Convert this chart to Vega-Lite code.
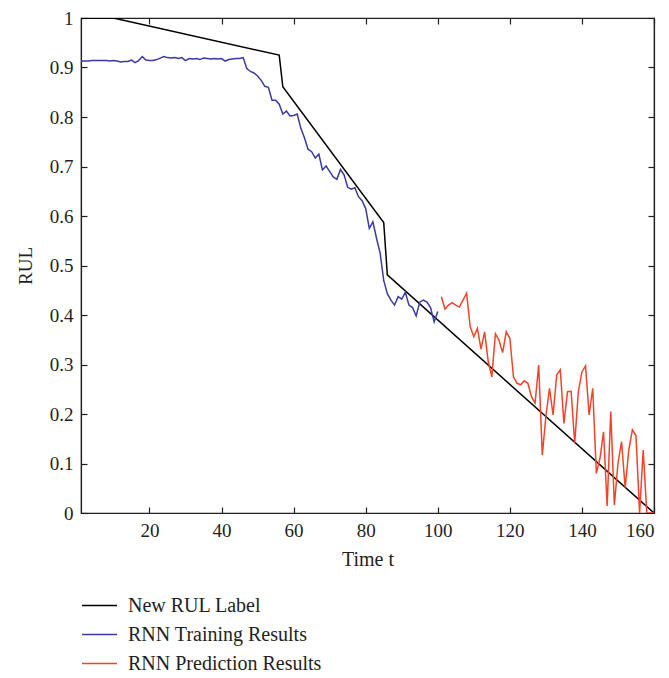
{
  "$schema": "https://vega.github.io/schema/vega-lite/v6.json",
  "width": 573,
  "height": 495,
  "autosize": {"type": "none"},
  "padding": {"left": 81, "top": 18, "right": 15, "bottom": 165},
  "background": "white",
  "config": {
    "font": "Liberation Serif",
    "view": {"stroke": "#231f20", "strokeWidth": 1.2},
    "axis": {
      "grid": false,
      "domainColor": "#231f20",
      "domainWidth": 1.2,
      "tickColor": "#231f20",
      "tickWidth": 1.2,
      "tickSize": -6,
      "labelColor": "#231f20",
      "titleColor": "#231f20",
      "labelFontSize": 19,
      "titleFontSize": 20,
      "titleFontWeight": "normal"
    },
    "legend": {
      "orient": "none",
      "legendX": 0,
      "legendY": 569,
      "symbolType": "stroke",
      "symbolSize": 1225,
      "symbolStrokeWidth": 1.6,
      "labelFontSize": 20,
      "labelColor": "#231f20",
      "labelOffset": 10,
      "labelLimit": 400,
      "rowPadding": -2,
      "title": null
    }
  },
  "data": {
    "values": [
      {"t": 1, "v": 1, "series": "New RUL Label"},
      {"t": 10, "v": 1, "series": "New RUL Label"},
      {"t": 56, "v": 0.925, "series": "New RUL Label"},
      {"t": 57, "v": 0.861, "series": "New RUL Label"},
      {"t": 85, "v": 0.587, "series": "New RUL Label"},
      {"t": 86, "v": 0.481, "series": "New RUL Label"},
      {"t": 160, "v": 0, "series": "New RUL Label"},

      {"t": 1, "v": 0.913, "series": "RNN Training Results"},
      {"t": 2, "v": 0.913, "series": "RNN Training Results"},
      {"t": 3, "v": 0.913, "series": "RNN Training Results"},
      {"t": 4, "v": 0.914, "series": "RNN Training Results"},
      {"t": 5, "v": 0.914, "series": "RNN Training Results"},
      {"t": 6, "v": 0.914, "series": "RNN Training Results"},
      {"t": 7, "v": 0.914, "series": "RNN Training Results"},
      {"t": 8, "v": 0.914, "series": "RNN Training Results"},
      {"t": 9, "v": 0.913, "series": "RNN Training Results"},
      {"t": 10, "v": 0.914, "series": "RNN Training Results"},
      {"t": 11, "v": 0.913, "series": "RNN Training Results"},
      {"t": 12, "v": 0.911, "series": "RNN Training Results"},
      {"t": 13, "v": 0.912, "series": "RNN Training Results"},
      {"t": 14, "v": 0.912, "series": "RNN Training Results"},
      {"t": 15, "v": 0.915, "series": "RNN Training Results"},
      {"t": 16, "v": 0.910, "series": "RNN Training Results"},
      {"t": 17, "v": 0.914, "series": "RNN Training Results"},
      {"t": 18, "v": 0.922, "series": "RNN Training Results"},
      {"t": 19, "v": 0.915, "series": "RNN Training Results"},
      {"t": 20, "v": 0.914, "series": "RNN Training Results"},
      {"t": 21, "v": 0.914, "series": "RNN Training Results"},
      {"t": 22, "v": 0.916, "series": "RNN Training Results"},
      {"t": 23, "v": 0.919, "series": "RNN Training Results"},
      {"t": 24, "v": 0.922, "series": "RNN Training Results"},
      {"t": 25, "v": 0.920, "series": "RNN Training Results"},
      {"t": 26, "v": 0.919, "series": "RNN Training Results"},
      {"t": 27, "v": 0.920, "series": "RNN Training Results"},
      {"t": 28, "v": 0.918, "series": "RNN Training Results"},
      {"t": 29, "v": 0.920, "series": "RNN Training Results"},
      {"t": 30, "v": 0.914, "series": "RNN Training Results"},
      {"t": 31, "v": 0.918, "series": "RNN Training Results"},
      {"t": 32, "v": 0.917, "series": "RNN Training Results"},
      {"t": 33, "v": 0.918, "series": "RNN Training Results"},
      {"t": 34, "v": 0.916, "series": "RNN Training Results"},
      {"t": 35, "v": 0.919, "series": "RNN Training Results"},
      {"t": 36, "v": 0.918, "series": "RNN Training Results"},
      {"t": 37, "v": 0.917, "series": "RNN Training Results"},
      {"t": 38, "v": 0.918, "series": "RNN Training Results"},
      {"t": 39, "v": 0.917, "series": "RNN Training Results"},
      {"t": 40, "v": 0.918, "series": "RNN Training Results"},
      {"t": 41, "v": 0.913, "series": "RNN Training Results"},
      {"t": 42, "v": 0.916, "series": "RNN Training Results"},
      {"t": 43, "v": 0.917, "series": "RNN Training Results"},
      {"t": 44, "v": 0.918, "series": "RNN Training Results"},
      {"t": 45, "v": 0.918, "series": "RNN Training Results"},
      {"t": 46, "v": 0.920, "series": "RNN Training Results"},
      {"t": 47, "v": 0.898, "series": "RNN Training Results"},
      {"t": 48, "v": 0.892, "series": "RNN Training Results"},
      {"t": 49, "v": 0.889, "series": "RNN Training Results"},
      {"t": 50, "v": 0.883, "series": "RNN Training Results"},
      {"t": 51, "v": 0.874, "series": "RNN Training Results"},
      {"t": 52, "v": 0.862, "series": "RNN Training Results"},
      {"t": 53, "v": 0.860, "series": "RNN Training Results"},
      {"t": 54, "v": 0.834, "series": "RNN Training Results"},
      {"t": 55, "v": 0.834, "series": "RNN Training Results"},
      {"t": 56, "v": 0.826, "series": "RNN Training Results"},
      {"t": 57, "v": 0.806, "series": "RNN Training Results"},
      {"t": 58, "v": 0.812, "series": "RNN Training Results"},
      {"t": 59, "v": 0.802, "series": "RNN Training Results"},
      {"t": 60, "v": 0.803, "series": "RNN Training Results"},
      {"t": 61, "v": 0.806, "series": "RNN Training Results"},
      {"t": 62, "v": 0.777, "series": "RNN Training Results"},
      {"t": 63, "v": 0.758, "series": "RNN Training Results"},
      {"t": 64, "v": 0.735, "series": "RNN Training Results"},
      {"t": 65, "v": 0.730, "series": "RNN Training Results"},
      {"t": 66, "v": 0.717, "series": "RNN Training Results"},
      {"t": 67, "v": 0.725, "series": "RNN Training Results"},
      {"t": 68, "v": 0.693, "series": "RNN Training Results"},
      {"t": 69, "v": 0.701, "series": "RNN Training Results"},
      {"t": 70, "v": 0.690, "series": "RNN Training Results"},
      {"t": 71, "v": 0.679, "series": "RNN Training Results"},
      {"t": 72, "v": 0.674, "series": "RNN Training Results"},
      {"t": 73, "v": 0.694, "series": "RNN Training Results"},
      {"t": 74, "v": 0.683, "series": "RNN Training Results"},
      {"t": 75, "v": 0.658, "series": "RNN Training Results"},
      {"t": 76, "v": 0.654, "series": "RNN Training Results"},
      {"t": 77, "v": 0.657, "series": "RNN Training Results"},
      {"t": 78, "v": 0.639, "series": "RNN Training Results"},
      {"t": 79, "v": 0.631, "series": "RNN Training Results"},
      {"t": 80, "v": 0.615, "series": "RNN Training Results"},
      {"t": 81, "v": 0.575, "series": "RNN Training Results"},
      {"t": 82, "v": 0.588, "series": "RNN Training Results"},
      {"t": 83, "v": 0.555, "series": "RNN Training Results"},
      {"t": 84, "v": 0.525, "series": "RNN Training Results"},
      {"t": 85, "v": 0.470, "series": "RNN Training Results"},
      {"t": 86, "v": 0.443, "series": "RNN Training Results"},
      {"t": 87, "v": 0.430, "series": "RNN Training Results"},
      {"t": 88, "v": 0.420, "series": "RNN Training Results"},
      {"t": 89, "v": 0.437, "series": "RNN Training Results"},
      {"t": 90, "v": 0.432, "series": "RNN Training Results"},
      {"t": 91, "v": 0.446, "series": "RNN Training Results"},
      {"t": 92, "v": 0.420, "series": "RNN Training Results"},
      {"t": 93, "v": 0.415, "series": "RNN Training Results"},
      {"t": 94, "v": 0.398, "series": "RNN Training Results"},
      {"t": 95, "v": 0.426, "series": "RNN Training Results"},
      {"t": 96, "v": 0.430, "series": "RNN Training Results"},
      {"t": 97, "v": 0.426, "series": "RNN Training Results"},
      {"t": 98, "v": 0.415, "series": "RNN Training Results"},
      {"t": 99, "v": 0.386, "series": "RNN Training Results"},
      {"t": 100, "v": 0.407, "series": "RNN Training Results"},

      {"t": 101, "v": 0.437, "series": "RNN Prediction Results"},
      {"t": 102, "v": 0.412, "series": "RNN Prediction Results"},
      {"t": 103, "v": 0.420, "series": "RNN Prediction Results"},
      {"t": 104, "v": 0.425, "series": "RNN Prediction Results"},
      {"t": 105, "v": 0.420, "series": "RNN Prediction Results"},
      {"t": 106, "v": 0.416, "series": "RNN Prediction Results"},
      {"t": 107, "v": 0.430, "series": "RNN Prediction Results"},
      {"t": 108, "v": 0.444, "series": "RNN Prediction Results"},
      {"t": 109, "v": 0.376, "series": "RNN Prediction Results"},
      {"t": 110, "v": 0.356, "series": "RNN Prediction Results"},
      {"t": 111, "v": 0.373, "series": "RNN Prediction Results"},
      {"t": 112, "v": 0.331, "series": "RNN Prediction Results"},
      {"t": 113, "v": 0.366, "series": "RNN Prediction Results"},
      {"t": 114, "v": 0.306, "series": "RNN Prediction Results"},
      {"t": 115, "v": 0.275, "series": "RNN Prediction Results"},
      {"t": 116, "v": 0.362, "series": "RNN Prediction Results"},
      {"t": 117, "v": 0.349, "series": "RNN Prediction Results"},
      {"t": 118, "v": 0.324, "series": "RNN Prediction Results"},
      {"t": 119, "v": 0.366, "series": "RNN Prediction Results"},
      {"t": 120, "v": 0.353, "series": "RNN Prediction Results"},
      {"t": 121, "v": 0.275, "series": "RNN Prediction Results"},
      {"t": 122, "v": 0.262, "series": "RNN Prediction Results"},
      {"t": 123, "v": 0.259, "series": "RNN Prediction Results"},
      {"t": 124, "v": 0.267, "series": "RNN Prediction Results"},
      {"t": 125, "v": 0.262, "series": "RNN Prediction Results"},
      {"t": 126, "v": 0.235, "series": "RNN Prediction Results"},
      {"t": 127, "v": 0.222, "series": "RNN Prediction Results"},
      {"t": 128, "v": 0.299, "series": "RNN Prediction Results"},
      {"t": 129, "v": 0.117, "series": "RNN Prediction Results"},
      {"t": 130, "v": 0.195, "series": "RNN Prediction Results"},
      {"t": 131, "v": 0.252, "series": "RNN Prediction Results"},
      {"t": 132, "v": 0.198, "series": "RNN Prediction Results"},
      {"t": 133, "v": 0.279, "series": "RNN Prediction Results"},
      {"t": 134, "v": 0.289, "series": "RNN Prediction Results"},
      {"t": 135, "v": 0.181, "series": "RNN Prediction Results"},
      {"t": 136, "v": 0.245, "series": "RNN Prediction Results"},
      {"t": 137, "v": 0.246, "series": "RNN Prediction Results"},
      {"t": 138, "v": 0.141, "series": "RNN Prediction Results"},
      {"t": 139, "v": 0.245, "series": "RNN Prediction Results"},
      {"t": 140, "v": 0.285, "series": "RNN Prediction Results"},
      {"t": 141, "v": 0.297, "series": "RNN Prediction Results"},
      {"t": 142, "v": 0.198, "series": "RNN Prediction Results"},
      {"t": 143, "v": 0.252, "series": "RNN Prediction Results"},
      {"t": 144, "v": 0.080, "series": "RNN Prediction Results"},
      {"t": 145, "v": 0.110, "series": "RNN Prediction Results"},
      {"t": 146, "v": 0.164, "series": "RNN Prediction Results"},
      {"t": 147, "v": 0.014, "series": "RNN Prediction Results"},
      {"t": 148, "v": 0.205, "series": "RNN Prediction Results"},
      {"t": 149, "v": 0.016, "series": "RNN Prediction Results"},
      {"t": 150, "v": 0.100, "series": "RNN Prediction Results"},
      {"t": 151, "v": 0.144, "series": "RNN Prediction Results"},
      {"t": 152, "v": 0.051, "series": "RNN Prediction Results"},
      {"t": 153, "v": 0.127, "series": "RNN Prediction Results"},
      {"t": 154, "v": 0.168, "series": "RNN Prediction Results"},
      {"t": 155, "v": 0.156, "series": "RNN Prediction Results"},
      {"t": 156, "v": 0.000, "series": "RNN Prediction Results"},
      {"t": 157, "v": 0.127, "series": "RNN Prediction Results"},
      {"t": 158, "v": 0.000, "series": "RNN Prediction Results"},
      {"t": 159, "v": 0.000, "series": "RNN Prediction Results"},
      {"t": 160, "v": 0.000, "series": "RNN Prediction Results"}
    ]
  },
  "resolve": {"axis": {"x": "independent", "y": "independent"}},
  "layer": [
    {
      "mark": {"type": "line", "strokeWidth": 1.5, "clip": true},
      "encoding": {
        "x": {
          "field": "t",
          "type": "quantitative",
          "scale": {"domain": [1, 160], "nice": false, "zero": false},
          "axis": {
            "title": "Time t",
            "values": [20, 40, 60, 80, 100, 120, 140, 160],
            "labelPadding": 14,
            "titlePadding": 9
          }
        },
        "y": {
          "field": "v",
          "type": "quantitative",
          "scale": {"domain": [0, 1], "nice": false},
          "axis": {
            "title": "RUL",
            "titleFontSize": 19,
            "values": [0, 0.1, 0.2, 0.3, 0.4, 0.5, 0.6, 0.7, 0.8, 0.9, 1],
            "format": "~g",
            "labelPadding": 14,
            "titlePadding": 14
          }
        },
        "color": {
          "field": "series",
          "type": "nominal",
          "sort": ["New RUL Label", "RNN Training Results", "RNN Prediction Results"],
          "scale": {
            "domain": ["New RUL Label", "RNN Training Results", "RNN Prediction Results"],
            "range": ["#000000", "#3a3aa0", "#f0442a"]
          }
        }
      }
    },
    {
      "mark": {"type": "line", "opacity": 0, "clip": true},
      "encoding": {
        "x": {
          "field": "t",
          "type": "quantitative",
          "axis": {
            "orient": "top",
            "title": null,
            "labels": false,
            "values": [20, 40, 60, 80, 100, 120, 140, 160]
          }
        },
        "y": {
          "field": "v",
          "type": "quantitative",
          "axis": {
            "orient": "right",
            "title": null,
            "labels": false,
            "values": [0, 0.1, 0.2, 0.3, 0.4, 0.5, 0.6, 0.7, 0.8, 0.9, 1]
          }
        },
        "detail": {"field": "series", "type": "nominal"}
      }
    }
  ]
}
